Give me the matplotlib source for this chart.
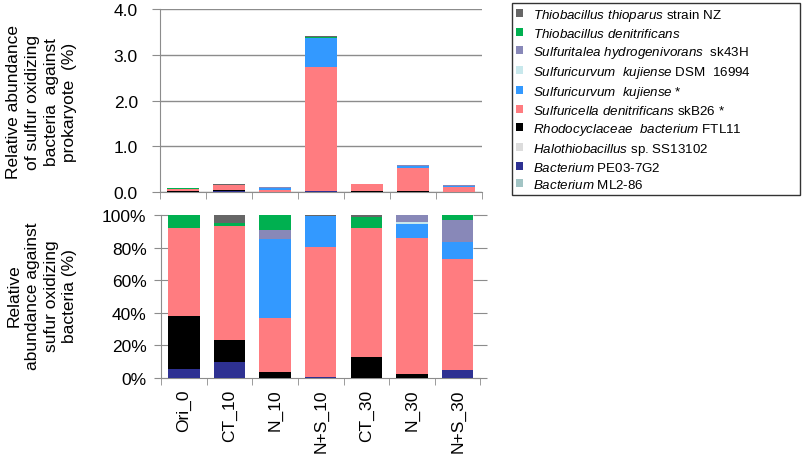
import numpy as np
import matplotlib
matplotlib.use('Agg')
import matplotlib.pyplot as plt
from matplotlib.ticker import FixedLocator

plt.rcParams['font.family'] = ['Liberation Sans', 'DejaVu Sans']
plt.rcParams['mathtext.fontset'] = 'custom'
plt.rcParams['mathtext.rm'] = 'Liberation Sans'
plt.rcParams['mathtext.it'] = 'Liberation Sans:italic'

samples = ['Ori_0', 'CT_10', 'N_10', 'N+S_10', 'CT_30', 'N_30', 'N+S_30']

# total sulfur oxidizing bacteria against prokaryote (%)
totals = [0.08, 0.17, 0.11, 3.40, 0.18, 0.60, 0.15]

# composition (% of sulfur oxidizing bacteria), stacked bottom to top
ml2_86 = [0.0, 0.0, 0.0, 0.0, 0.0, 0.0, 0.0]
pe03_7g2 = [5.3, 9.4, 0.0, 0.5, 0.0, 0.0, 4.7]
halothiobacillus = [0.0, 0.0, 0.0, 0.0, 0.0, 0.0, 0.0]
rhodocyclaceae = [32.4, 13.8, 3.3, 0.0, 12.5, 2.5, 0.0]
sulfuricella = [54.5, 69.8, 33.6, 79.8, 79.7, 83.4, 68.3]
sulfuricurvum = [0.0, 0.0, 48.1, 18.8, 0.0, 8.6, 10.6]
sulfuricurvum_dsm = [0.0, 0.0, 0.0, 0.0, 0.0, 1.2, 0.0]
sulfuritalea = [0.0, 0.0, 5.8, 0.0, 0.0, 4.3, 13.5]
t_denitrificans = [7.8, 2.1, 9.2, 0.4, 6.6, 0.0, 2.9]
t_thioparus = [0.0, 4.9, 0.0, 0.5, 1.2, 0.0, 0.0]

series = [
    (ml2_86, '#a2c4c4', r'$\mathit{Bacterium}$ ML2-86'),
    (pe03_7g2, '#2e3192', r'$\mathit{Bacterium}$ PE03-7G2'),
    (halothiobacillus, '#dcdcdc', r'$\mathit{Halothiobacillus}$ sp. SS13102'),
    (rhodocyclaceae, '#000000', r'$\mathit{Rhodocyclaceae\ \ bacterium}$ FTL11'),
    (sulfuricella, '#ff7c80', r'$\mathit{Sulfuricella\ denitrificans}$ skB26 *'),
    (sulfuricurvum, '#3399ff', r'$\mathit{Sulfuricurvum\ \ kujiense}$ *'),
    (sulfuricurvum_dsm, '#c8e8ec', r'$\mathit{Sulfuricurvum\ \ kujiense}$ DSM  16994'),
    (sulfuritalea, '#8888b8', r'$\mathit{Sulfuritalea\ hydrogenivorans}$  sk43H'),
    (t_denitrificans, '#00b050', r'$\mathit{Thiobacillus\ denitrificans}$'),
    (t_thioparus, '#666666', r'$\mathit{Thiobacillus\ thioparus}$ strain NZ'),
]


def style_axes(ax):
    for s in ['top', 'right']:
        ax.spines[s].set_visible(False)
    for s in ['left', 'bottom']:
        ax.spines[s].set_color('#8c8c8c')
    ax.set_xlim(-0.5, len(samples) - 0.5)
    ax.set_xticks(np.arange(len(samples)))
    ax.xaxis.set_minor_locator(FixedLocator(np.arange(len(samples) + 1) - 0.5))
    ax.tick_params(axis='x', which='major', length=0)
    ax.tick_params(axis='x', which='minor', length=5, color='#8c8c8c', direction='out')
    ax.tick_params(axis='y', labelsize=12.5, color='#8c8c8c')


def main():
    fig = plt.figure(figsize=(8.03, 4.6), dpi=100)
    ax1 = fig.add_axes([0.1993, 0.5804, 0.401, 0.3978])
    ax2 = fig.add_axes([0.2007, 0.1767, 0.3975, 0.3537])

    x = np.arange(len(samples))
    width = 0.69
    tot = np.array(totals)
    bottom1 = np.zeros(len(samples))
    bottom2 = np.zeros(len(samples))
    handles = []
    for vals, color, label in series:
        v = np.array(vals)
        v1 = tot * v / 100.0
        ax1.bar(x, v1, width, bottom=bottom1, color=color, zorder=3)
        h = ax2.bar(x, v, width, bottom=bottom2, color=color, label=label, zorder=3)
        handles.append(h)
        bottom1 += v1
        bottom2 += v

    style_axes(ax1)
    ax1.set_ylim(0, 4)
    ax1.set_yticks([0, 1, 2, 3, 4])
    ax1.set_yticklabels(['%.1f' % t for t in [0, 1, 2, 3, 4]])
    ax1.set_xticklabels([])
    ax1.grid(axis='y', color='#8c8c8c', linewidth=1.0, zorder=0)
    ax1.tick_params(axis='y', direction='out', length=6, pad=10)

    style_axes(ax2)
    ax2.set_ylim(0, 100)
    ax2.set_yticks([0, 20, 40, 60, 80, 100])
    ax2.set_yticklabels(['%d%%' % t for t in [0, 20, 40, 60, 80, 100]])
    ax2.set_xticklabels(samples, rotation=90, fontsize=12.5)
    ax2.tick_params(axis='y', direction='inout', length=10, right=True, pad=5.5)
    ax2.tick_params(axis='x', which='major', pad=8)

    fig.text(0.052, 0.778, 'Relative abundance\nof sulfur oxidizing\nbacteria  against\nprokaryote  (%)',
             rotation=90, ha='center', va='center', fontsize=12.5, linespacing=1.3)
    fig.text(0.052, 0.357, 'Relative\nabundance against\nsufur oxidizing\nbacteria (%)',
             rotation=90, ha='center', va='center', fontsize=12.5, linespacing=1.3)

    x0 = 511.7 / 803
    y1 = 1 - 4 / 460
    leg = fig.legend(handles[::-1], [s[2] for s in series][::-1],
                     loc='upper left', bbox_to_anchor=(x0, 0, 800 / 803 - x0, y1),
                     mode='expand',
                     fontsize=9.6, frameon=True, fancybox=False, borderaxespad=0,
                     handlelength=0.55, handleheight=0.55, handletextpad=0.75,
                     labelspacing=0.3, borderpad=0.3)
    leg.get_frame().set_edgecolor('black')
    leg.get_frame().set_linewidth(1.0)

    plt.savefig('out.png', dpi=100)


if __name__ == "__main__":
    main()
